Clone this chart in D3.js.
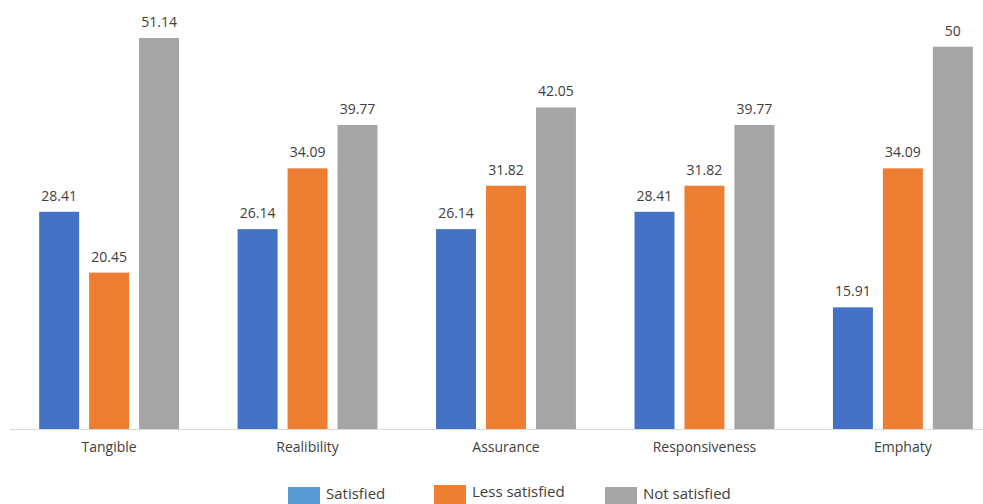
<!DOCTYPE html>
<html><head><meta charset="utf-8">
<script src="https://cdn.jsdelivr.net/npm/d3@7"></script>
<style>body{margin:0;background:#fff;overflow:hidden}</style>
</head><body><svg id="c" width="983" height="504"></svg>
<script>
const categories = ["Tangible","Realibility","Assurance","Responsiveness","Emphaty"];
const seriesNames = ["Satisfied","Less satisfied","Not satisfied"];
const satisfied = [28.41, 26.14, 26.14, 28.41, 15.91];
const lessSatisfied = [20.45, 34.09, 31.82, 31.82, 34.09];
const notSatisfied = [51.14, 39.77, 42.05, 39.77, 50];
const colors = ["#4472C4","#ED7D31","#A5A5A5"];
const legendColors = ["#5B9BD5","#ED7D31","#A5A5A5"];

const series = [satisfied, lessSatisfied, notSatisfied];
const svg = d3.select("#c");
const font = "'Open Sans', sans-serif";
const baseY = 429;
const x0 = d3.scaleBand().domain(categories).range([10, 1002]).paddingInner(0.295).paddingOuter(0.147);
const x1 = d3.scaleBand().domain(d3.range(3)).range([0, x0.bandwidth()]).paddingInner(0.2);
const y = d3.scaleLinear().domain([0, 51.14]).range([baseY, 38]);

const g = svg.append("g");
categories.forEach((c, i) => {
  series.forEach((s, j) => {
    const v = s[i];
    const bx = x0(c) + x1(j);
    g.append("rect").attr("x", bx).attr("y", y(v)).attr("width", x1.bandwidth()).attr("height", baseY - y(v)).attr("fill", colors[j]);
    g.append("text").attr("x", bx + x1.bandwidth()/2).attr("y", y(v) - 11)
      .attr("text-anchor","middle").attr("font-family", font).attr("font-size", 14).attr("fill","#404040")
      .text(v);
  });
});

const xAxis = svg.append("g").attr("transform", `translate(0,${baseY})`).call(d3.axisBottom(x0).tickSize(0).tickPadding(13));
xAxis.select(".domain").attr("stroke","#d9d9d9").attr("d","M10,0.5H983");
xAxis.selectAll("text").attr("font-family", font).attr("font-size", 14).attr("fill","#404040");

const legendX = [288, 434, 605];
const legendTop = [487, 485, 487];
const textY = [499, 497, 499];
seriesNames.forEach((n, j) => {
  svg.append("rect").attr("x", legendX[j]).attr("y", legendTop[j]).attr("width", 32).attr("height", 20).attr("fill", legendColors[j]);
  svg.append("text").attr("x", legendX[j] + 38).attr("y", textY[j]).attr("font-family", font).attr("font-size", 15).attr("fill","#404040").text(n);
});
</script></body></html>
